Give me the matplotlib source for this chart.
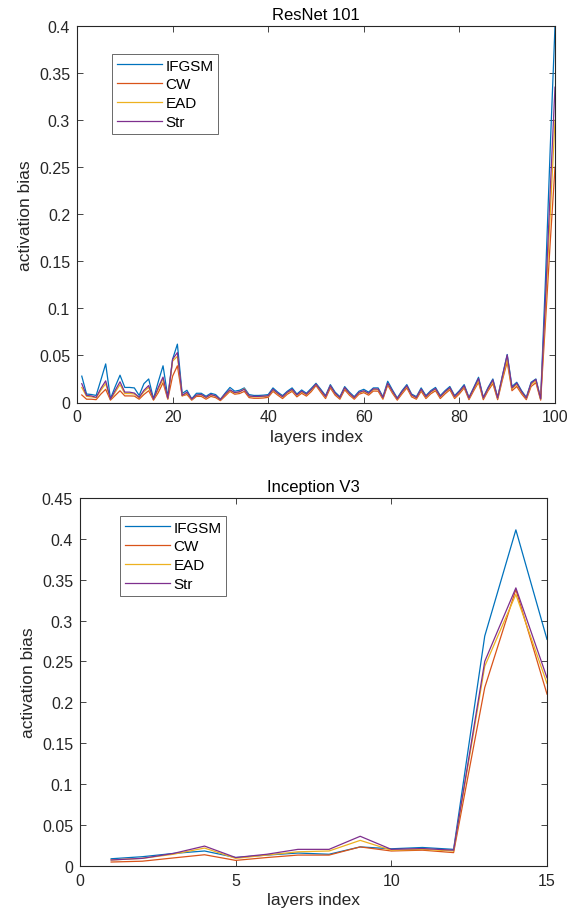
import matplotlib
matplotlib.use("Agg")
import matplotlib.pyplot as plt
import numpy as np

plt.rcParams['font.family'] = ['Liberation Sans', 'DejaVu Sans']

series_names = ["IFGSM", "CW", "EAD", "Str"]
colors = ["#0072BD", "#D95319", "#EDB120", "#7E2F8E"]

# ---- ResNet 101 (layers 1..100) ----
resnet_layers = list(range(1, 101))
resnet_ifgsm = [
    0.028, 0.009, 0.0085, 0.0075, 0.024, 0.041, 0.004, 0.017, 0.029, 0.016,
    0.016, 0.0155, 0.0075, 0.020, 0.025, 0.004, 0.022, 0.039, 0.006, 0.046,
    0.062, 0.0095, 0.013, 0.004, 0.0098, 0.0098, 0.0066, 0.0098, 0.0084, 0.0035,
    0.010, 0.016, 0.012, 0.013, 0.0155, 0.0084, 0.0075, 0.0075, 0.0078, 0.0084,
    0.0155, 0.011, 0.0073, 0.012, 0.0155, 0.009, 0.0133, 0.0098, 0.015, 0.0204,
    0.014, 0.0073, 0.019, 0.011, 0.0062, 0.0169, 0.011, 0.0062, 0.012, 0.014,
    0.011, 0.0155, 0.0155, 0.0062, 0.0226, 0.0133, 0.0048, 0.0126, 0.019, 0.009,
    0.0062, 0.0155, 0.0073, 0.0126, 0.016, 0.0073, 0.0126, 0.017, 0.0073, 0.0126,
    0.019, 0.0055, 0.016, 0.0268, 0.0055, 0.016, 0.025, 0.0055, 0.0286, 0.051,
    0.017, 0.0215, 0.0126, 0.0055, 0.0215, 0.025, 0.0044, 0.13, 0.27, 0.40,
]
resnet_cw = [
    0.008, 0.0035, 0.0035, 0.003, 0.009, 0.014, 0.0025, 0.0075, 0.0125, 0.007,
    0.007, 0.0068, 0.0035, 0.0085, 0.0125, 0.0025, 0.0105, 0.021, 0.0035, 0.028,
    0.039, 0.007, 0.0085, 0.0025, 0.0065, 0.0065, 0.0035, 0.0065, 0.0052, 0.002,
    0.0068, 0.0118, 0.0088, 0.0095, 0.0118, 0.0052, 0.0045, 0.0045, 0.0048, 0.0055,
    0.0118, 0.0078, 0.0042, 0.0088, 0.0118, 0.006, 0.0098, 0.0068, 0.0115, 0.018,
    0.0108, 0.0042, 0.0155, 0.0078, 0.0035, 0.0135, 0.0078, 0.0035, 0.0088, 0.0105,
    0.0078, 0.0122, 0.012, 0.0035, 0.0185, 0.0098, 0.0025, 0.0092, 0.0155, 0.006,
    0.0035, 0.012, 0.0042, 0.0092, 0.0125, 0.0042, 0.0092, 0.0135, 0.0042, 0.0092,
    0.0155, 0.003, 0.0125, 0.0215, 0.003, 0.0125, 0.020, 0.003, 0.024, 0.043,
    0.0125, 0.017, 0.0092, 0.003, 0.017, 0.021, 0.0025, 0.085, 0.17, 0.25,
]
resnet_ead = [
    0.016, 0.0065, 0.006, 0.005, 0.013, 0.020, 0.003, 0.011, 0.019, 0.0095,
    0.0095, 0.009, 0.005, 0.0115, 0.016, 0.003, 0.014, 0.025, 0.004, 0.044,
    0.049, 0.007, 0.010, 0.003, 0.0075, 0.008, 0.005, 0.008, 0.0065, 0.0028,
    0.0085, 0.0128, 0.010, 0.011, 0.0145, 0.0065, 0.006, 0.006, 0.0063, 0.0068,
    0.0132, 0.0092, 0.0058, 0.0102, 0.0132, 0.0075, 0.0112, 0.0082, 0.013, 0.0192,
    0.0122, 0.0058, 0.0172, 0.0092, 0.0048, 0.0152, 0.0092, 0.0048, 0.0102, 0.0118,
    0.0092, 0.0138, 0.0136, 0.0048, 0.0198, 0.0112, 0.0036, 0.0108, 0.017, 0.0075,
    0.0048, 0.0135, 0.0058, 0.0108, 0.014, 0.0058, 0.0108, 0.015, 0.0058, 0.0108,
    0.017, 0.0043, 0.014, 0.023, 0.0043, 0.014, 0.022, 0.0043, 0.026, 0.046,
    0.0145, 0.019, 0.0108, 0.0043, 0.019, 0.023, 0.0035, 0.10, 0.20, 0.30,
]
resnet_str = [
    0.020, 0.0075, 0.007, 0.0055, 0.015, 0.023, 0.0035, 0.013, 0.022, 0.011,
    0.011, 0.010, 0.0055, 0.013, 0.018, 0.0035, 0.016, 0.027, 0.0045, 0.046,
    0.053, 0.0075, 0.011, 0.0035, 0.008, 0.0085, 0.0055, 0.0085, 0.007, 0.003,
    0.009, 0.0135, 0.0105, 0.0115, 0.014, 0.007, 0.0065, 0.0065, 0.0068, 0.0072,
    0.014, 0.0098, 0.0062, 0.011, 0.014, 0.008, 0.012, 0.0088, 0.0138, 0.0195,
    0.0128, 0.0063, 0.0178, 0.0098, 0.0052, 0.0158, 0.0098, 0.0052, 0.0108, 0.0125,
    0.0098, 0.0145, 0.0143, 0.0052, 0.0205, 0.012, 0.004, 0.0115, 0.0178, 0.008,
    0.0052, 0.0142, 0.0063, 0.0115, 0.0148, 0.0063, 0.0115, 0.0158, 0.0063, 0.0115,
    0.0178, 0.0047, 0.015, 0.0255, 0.0047, 0.015, 0.024, 0.0047, 0.028, 0.0505,
    0.0155, 0.0205, 0.0115, 0.0047, 0.0205, 0.0245, 0.0038, 0.11, 0.225, 0.335,
]

# ---- Inception V3 (layers 1..15) ----
incep_layers = list(range(1, 16))
incep_ifgsm = [0.0085, 0.011, 0.015, 0.018, 0.010, 0.013, 0.0155, 0.014, 0.023,
               0.0207, 0.0223, 0.020, 0.281, 0.411, 0.277]
incep_cw = [0.0045, 0.0055, 0.0095, 0.0134, 0.0065, 0.010, 0.013, 0.013, 0.023,
            0.018, 0.019, 0.016, 0.218, 0.338, 0.210]
incep_ead = [0.007, 0.009, 0.014, 0.0216, 0.009, 0.013, 0.017, 0.018, 0.031,
             0.019, 0.020, 0.018, 0.244, 0.332, 0.223]
incep_str = [0.007, 0.009, 0.015, 0.024, 0.010, 0.014, 0.020, 0.020, 0.036,
             0.020, 0.021, 0.019, 0.250, 0.340, 0.230]

W, H = 579, 920
fig = plt.figure(figsize=(W / 100, H / 100), dpi=100)

axcol = "#262626"


def make_axes(l, r, t, b):
    return fig.add_axes([l / W, 1 - b / H, (r - l) / W, (b - t) / H])


def style(ax):
    for s in ax.spines.values():
        s.set_color(axcol)
        s.set_linewidth(0.8)
    ax.tick_params(direction="in", top=True, right=True, colors=axcol,
                   labelsize=11.5, length=4, width=0.6, labelcolor=axcol, pad=5)


def fmt(v):
    return "%g" % round(v, 3)


def add_legend(ax, x, y):
    leg = ax.legend(loc="upper left", bbox_to_anchor=(x / W, 1 - y / H),
                    bbox_transform=fig.transFigure, fontsize=11, frameon=True,
                    fancybox=False, handlelength=3.0, handletextpad=0.2,
                    borderpad=0.3, labelspacing=0.32, borderaxespad=0)
    leg.get_frame().set_edgecolor(axcol)
    leg.get_frame().set_linewidth(0.6)
    return leg


ax1 = make_axes(77, 555, 27, 403.5)
for vals, c, n in zip([resnet_ifgsm, resnet_cw, resnet_ead, resnet_str], colors, series_names):
    ax1.plot(resnet_layers, vals, color=c, lw=0.9, label=n)
ax1.set_xlim(0, 100)
ax1.set_ylim(0, 0.4)
yt = np.arange(0, 0.4001, 0.05)
ax1.set_yticks(yt)
ax1.set_yticklabels([fmt(v) for v in yt])
ax1.set_xticks(np.arange(0, 101, 20))
style(ax1)
ax1.set_title("ResNet 101", fontsize=12, color="black", pad=5)
ax1.set_xlabel("layers index", fontsize=12.5, color=axcol, labelpad=3)
ax1.set_ylabel("activation bias", fontsize=12.5, color=axcol, labelpad=4)
add_legend(ax1, 112, 55)

ax2 = make_axes(80, 547, 499, 866.7)
for vals, c, n in zip([incep_ifgsm, incep_cw, incep_ead, incep_str], colors, series_names):
    ax2.plot(incep_layers, vals, color=c, lw=0.9, label=n)
ax2.set_xlim(0, 15)
ax2.set_ylim(0, 0.45)
yt2 = np.arange(0, 0.4501, 0.05)
ax2.set_yticks(yt2)
ax2.set_yticklabels([fmt(v) for v in yt2])
ax2.set_xticks(np.arange(0, 16, 5))
style(ax2)
ax2.set_title("Inception V3", fontsize=12, color="black", pad=5)
ax2.set_xlabel("layers index", fontsize=12.5, color=axcol, labelpad=3)
ax2.set_ylabel("activation bias", fontsize=12.5, color=axcol, labelpad=4)
add_legend(ax2, 120, 517)

fig.savefig("out.png", dpi=100)
